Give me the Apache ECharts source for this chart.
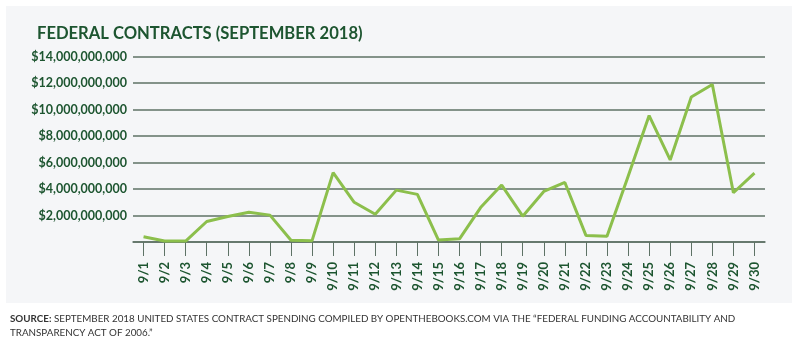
<!DOCTYPE html>
<html>
<head>
<meta charset="utf-8">
<title>Federal Contracts (September 2018)</title>
<script src="https://cdn.jsdelivr.net/npm/echarts@6/dist/echarts.min.js"></script>
<style>
  html, body { margin: 0; padding: 0; background: #ffffff; }
  #chart { width: 800px; height: 343px; }
</style>
</head>
<body>
<div id="chart"></div>
<script>
// Daily contract spending, September 2018 (US dollars)
const days = ['9/1','9/2','9/3','9/4','9/5','9/6','9/7','9/8','9/9','9/10',
  '9/11','9/12','9/13','9/14','9/15','9/16','9/17','9/18','9/19','9/20',
  '9/21','9/22','9/23','9/24','9/25','9/26','9/27','9/28','9/29','9/30'];

const spendingBillions = [0.40, 0.07, 0.07, 1.55, 1.93, 2.25, 2.03, 0.13, 0.10, 5.24,
  3.00, 2.10, 3.92, 3.60, 0.15, 0.24, 2.60, 4.30, 1.95, 3.82,
  4.50, 0.50, 0.43, 4.95, 9.55, 6.20, 10.95, 11.90, 3.72, 5.20];

const yTicks = { min: 0, max: 14e9, step: 2e9 };

const titleText = 'FEDERAL CONTRACTS (SEPTEMBER 2018)';
const sourceLabel = 'SOURCE:';
const sourceText = ' SEPTEMBER 2018 UNITED STATES CONTRACT SPENDING COMPILED BY OPENTHEBOOKS.COM VIA THE \u201CFEDERAL FUNDING ACCOUNTABILITY AND';
const sourceText2 = 'TRANSPARENCY ACT OF 2006.\u201D';

const darkGreen = '#1d5530';
const lineGreen = '#8cbf4c';
const gridGrey = '#5e7266';

const chart = echarts.init(document.getElementById('chart'), null, { renderer: 'canvas' });

chart.setOption({
  backgroundColor: '#ffffff',
  animation: false,
  graphic: [
    {
      type: 'rect',
      z: -10,
      shape: { x: 6, y: 6, width: 786, height: 297 },
      style: { fill: '#f5f6f8' },
      silent: true
    },
    {
      type: 'text',
      left: 10,
      top: 312,
      style: {
        text: '{b|' + sourceLabel + '}' + sourceText + '\n' + sourceText2,
        font: '9.8px Lato',
        fill: '#333333',
        lineHeight: 14,
        rich: {
          b: { font: 'bold 9.8px Lato', fill: '#333333' }
        }
      }
    }
  ],
  title: {
    text: titleText,
    left: 32,
    top: 20,
    textStyle: {
      fontFamily: 'Lato',
      fontWeight: 'bold',
      fontSize: 16.6,
      color: darkGreen
    }
  },
  grid: {
    left: 133,
    right: 35,
    top: 56.7,
    bottom: 101
  },
  xAxis: {
    type: 'category',
    data: days,
    boundaryGap: true,
    axisLine: { show: true, lineStyle: { color: gridGrey, width: 1.5 } },
    axisTick: { show: true, alignWithLabel: true, length: 14, lineStyle: { color: gridGrey, width: 1 } },
    axisLabel: {
      interval: 0,
      rotate: 90,
      margin: 20,
      color: darkGreen,
      fontFamily: 'Lato',
      fontWeight: 'bold',
      fontSize: 13
    }
  },
  yAxis: {
    type: 'value',
    min: yTicks.min,
    max: yTicks.max,
    interval: yTicks.step,
    axisLine: { show: false },
    axisTick: { show: false },
    splitLine: { show: true, lineStyle: { color: gridGrey, width: 1.5 } },
    axisLabel: {
      margin: 6,
      color: darkGreen,
      fontFamily: 'Lato',
      fontWeight: 'bold',
      fontSize: 12.5,
      formatter: function (v) {
        return v === 0 ? '' : '$' + v.toLocaleString('en-US');
      }
    }
  },
  series: [
    {
      type: 'line',
      data: spendingBillions.map(function (b) { return Math.round(b * 1e9); }),
      symbol: 'none',
      lineStyle: { color: lineGreen, width: 3 },
      z: 5
    }
  ]
});
</script>
</body>
</html>
